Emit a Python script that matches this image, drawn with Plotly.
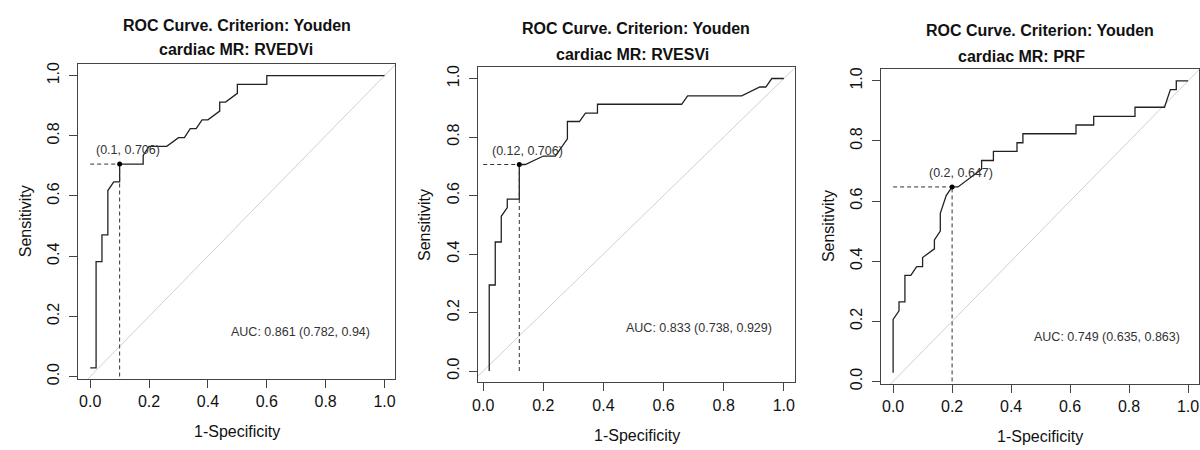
import plotly.graph_objects as go

# ---------------- data ----------------
panel_titles = ["cardiac MR: RVEDVi", "cardiac MR: RVESVi", "cardiac MR: PRF"]
main_title = "ROC Curve. Criterion: Youden"

fpr_rvedvi = [0, 0.02, 0.02, 0.04, 0.04, 0.06, 0.06, 0.08, 0.10, 0.10, 0.18, 0.18, 0.20, 0.26,
              0.30, 0.32, 0.34, 0.36, 0.38, 0.40, 0.44, 0.44, 0.46, 0.50, 0.50, 0.60, 0.60, 1.00]
tpr_rvedvi = [0.029, 0.029, 0.382, 0.382, 0.471, 0.471, 0.618, 0.647, 0.647, 0.706, 0.706, 0.735,
              0.765, 0.765, 0.794, 0.794, 0.824, 0.824, 0.853, 0.853, 0.882, 0.912, 0.912, 0.941,
              0.971, 0.971, 1.0, 1.0]

fpr_rvesvi = [0.02, 0.02, 0.04, 0.04, 0.06, 0.06, 0.08, 0.08, 0.12, 0.12, 0.14, 0.20, 0.24, 0.28,
              0.28, 0.32, 0.34, 0.38, 0.38, 0.66, 0.68, 0.86, 0.92, 0.94, 0.96, 1.00]
tpr_rvesvi = [0.0, 0.294, 0.294, 0.441, 0.441, 0.529, 0.559, 0.588, 0.588, 0.706, 0.706, 0.735,
              0.735, 0.794, 0.853, 0.853, 0.882, 0.882, 0.912, 0.912, 0.941, 0.941, 0.971, 0.971,
              1.0, 1.0]

fpr_prf = [0, 0, 0.02, 0.02, 0.04, 0.04, 0.06, 0.08, 0.10, 0.10, 0.14, 0.14, 0.16, 0.16, 0.18,
           0.20, 0.22, 0.30, 0.30, 0.34, 0.34, 0.42, 0.42, 0.44, 0.44, 0.62, 0.62, 0.68, 0.68,
           0.82, 0.82, 0.92, 0.94, 0.96, 0.96, 1.00]
tpr_prf = [0.029, 0.206, 0.235, 0.265, 0.265, 0.353, 0.353, 0.382, 0.382, 0.412, 0.441, 0.471,
           0.500, 0.559, 0.618, 0.647, 0.647, 0.706, 0.735, 0.735, 0.765, 0.765, 0.794, 0.794,
           0.824, 0.824, 0.853, 0.853, 0.882, 0.882, 0.912, 0.912, 0.971, 0.971, 1.0, 1.0]

opt_fpr = [0.10, 0.12, 0.20]
opt_tpr = [0.706, 0.706, 0.647]
opt_labels = ["(0.1, 0.706)", "(0.12, 0.706)", "(0.2, 0.647)"]
auc_labels = ["AUC: 0.861 (0.782, 0.94)", "AUC: 0.833 (0.738, 0.929)", "AUC: 0.749 (0.635, 0.863)"]

tick_vals = [0, 0.2, 0.4, 0.6, 0.8, 1.0]
tick_text = ["0.0", "0.2", "0.4", "0.6", "0.8", "1.0"]

curves_x = [fpr_rvedvi, fpr_rvesvi, fpr_prf]
curves_y = [tpr_rvedvi, tpr_rvesvi, tpr_prf]

# ---------------- layout geometry (pixels) ----------------
W, H = 1200, 450
def px(x):
    return x / W
def py(y):
    return 1 - y / H

# plot boxes: (left, right, top, bottom) in px, axis ranges
boxes = [(72.7, 391.7, 62.7, 384.0), (474.7, 793.3, 65.7, 387.3), (880.3, 1200.0, 68.3, 389.0)]
xranges = [[-0.0405, 1.037], [-0.0176, 1.036], [-0.0405, 1.037]]
yranges = [[-0.0088, 1.040], [-0.039, 1.041], [-0.0088, 1.039]]
title1_pos = [(232, 24), (634, 26.5), (1040, 28.8)]
title2_pos = [(231, 48.7), (630.5, 53.5), (1021.5, 55.5)]
xlab_pos = [(232.3, 437.5), (634.3, 441), (1040, 442)]
ylab_pos = [(19, 223.3), (420.8, 226.7), (826.7, 228.3)]
auc_pos = [(0.715, 0.148), (0.7185, 0.146), (0.725, 0.148)]

FONT = "Liberation Sans, Arial, sans-serif"
AXC = "#444444"

fig = go.Figure()
annotations = []
layout_axes = {}

for i in range(3):
    xa = "x" if i == 0 else f"x{i+1}"
    ya = "y" if i == 0 else f"y{i+1}"
    xr, yr = xranges[i], yranges[i]
    lo = min(xr[0], yr[0]) - 0.1
    hi = max(xr[1], yr[1]) + 0.1
    # diagonal reference
    fig.add_trace(go.Scatter(x=[lo, hi], y=[lo, hi], mode="lines",
                             line=dict(color="#d0d0d0", width=1),
                             xaxis=xa, yaxis=ya, showlegend=False, hoverinfo="skip"))
    # ROC curve
    fig.add_trace(go.Scatter(x=curves_x[i], y=curves_y[i], mode="lines",
                             line=dict(color="#222222", width=1.3),
                             xaxis=xa, yaxis=ya, showlegend=False))
    # dashed guides
    fig.add_trace(go.Scatter(x=[0, opt_fpr[i]], y=[opt_tpr[i], opt_tpr[i]], mode="lines",
                             line=dict(color="#333333", width=1, dash="4px,3px"),
                             xaxis=xa, yaxis=ya, showlegend=False, hoverinfo="skip"))
    fig.add_trace(go.Scatter(x=[opt_fpr[i], opt_fpr[i]], y=[0, opt_tpr[i]], mode="lines",
                             line=dict(color="#333333", width=1, dash="4px,3px"),
                             xaxis=xa, yaxis=ya, showlegend=False, hoverinfo="skip"))
    # optimal point
    fig.add_trace(go.Scatter(x=[opt_fpr[i]], y=[opt_tpr[i]], mode="markers",
                             marker=dict(color="black", size=5),
                             xaxis=xa, yaxis=ya, showlegend=False))

    l, r, t, b = boxes[i]
    axcommon = dict(showline=True, mirror=True, linecolor=AXC, linewidth=1,
                    ticks="outside", ticklen=8, tickcolor=AXC, tickwidth=1,
                    showgrid=False, zeroline=False,
                    tickvals=tick_vals, ticktext=tick_text,
                    tickfont=dict(family=FONT, size=16, color="#111111"))
    layout_axes["xaxis" if i == 0 else f"xaxis{i+1}"] = dict(
        axcommon, domain=[px(l), px(r)], range=xr, anchor=ya)
    layout_axes["yaxis" if i == 0 else f"yaxis{i+1}"] = dict(
        axcommon, domain=[py(b), py(t)], range=yr, anchor=xa, tickangle=-90,
        ticklabelstandoff=4)

    annotations.append(dict(text="<b>" + main_title + "</b>", x=px(title1_pos[i][0]), y=py(title1_pos[i][1]),
                            xref="paper", yref="paper", showarrow=False, xanchor="center", yanchor="middle",
                            font=dict(family=FONT, size=16, color="#111111")))
    annotations.append(dict(text="<b>" + panel_titles[i] + "</b>", x=px(title2_pos[i][0]), y=py(title2_pos[i][1]),
                            xref="paper", yref="paper", showarrow=False, xanchor="center", yanchor="middle",
                            font=dict(family=FONT, size=16, color="#111111")))
    annotations.append(dict(text="1-Specificity", x=px(xlab_pos[i][0]), y=py(xlab_pos[i][1]),
                            xref="paper", yref="paper", showarrow=False, xanchor="center", yanchor="middle",
                            font=dict(family=FONT, size=16, color="#111111")))
    annotations.append(dict(text="Sensitivity", x=px(ylab_pos[i][0]), y=py(ylab_pos[i][1]),
                            xref="paper", yref="paper", showarrow=False, xanchor="center", yanchor="middle",
                            textangle=-90, font=dict(family=FONT, size=16, color="#111111")))
    annotations.append(dict(text=opt_labels[i], x=opt_fpr[i], y=opt_tpr[i], xref=xa, yref=ya,
                            showarrow=False, xanchor="center", yanchor="middle", xshift=8.5, yshift=14,
                            font=dict(family=FONT, size=12.5, color="#333333")))
    annotations.append(dict(text=auc_labels[i], x=auc_pos[i][0], y=auc_pos[i][1], xref=xa, yref=ya,
                            showarrow=False, xanchor="center", yanchor="middle",
                            font=dict(family=FONT, size=12.5, color="#333333")))

fig.update_layout(width=W, height=H, margin=dict(l=0, r=0, t=0, b=0),
                  paper_bgcolor="white", plot_bgcolor="white",
                  annotations=annotations, **layout_axes)

fig.write_html("out.html", config={"displayModeBar": False},
               post_script="document.body.style.margin='0';")
